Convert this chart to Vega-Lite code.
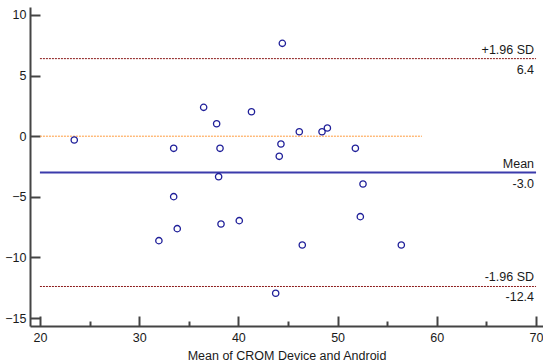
{
  "$schema": "https://vega.github.io/schema/vega-lite/v6.json",
  "width": 513,
  "height": 319,
  "autosize": {"type": "none"},
  "padding": {"left": 30, "top": 7, "right": 0, "bottom": 38},
  "background": "white",
  "config": {
    "view": {"stroke": null},
    "font": "Liberation Sans",
    "axis": {"grid": false, "labelFont": "Liberation Sans", "titleFont": "Liberation Sans", "labelFontSize": 12.5, "titleFontSize": 12.5, "labelColor": "#1a1a1a", "titleColor": "#1a1a1a", "titleFontWeight": "normal", "domainColor": "#444", "domainWidth": 2, "tickColor": "#444", "tickWidth": 2}
  },
  "datasets": {
    "points": [
      {"mean": 23.46, "diff": -0.31},
      {"mean": 36.50, "diff": 2.38},
      {"mean": 37.81, "diff": 1.03},
      {"mean": 33.48, "diff": -1.0},
      {"mean": 38.15, "diff": -1.0},
      {"mean": 38.01, "diff": -3.34},
      {"mean": 33.48, "diff": -4.99},
      {"mean": 44.43, "diff": 7.66},
      {"mean": 41.32, "diff": 2.02},
      {"mean": 46.14, "diff": 0.37},
      {"mean": 48.43, "diff": 0.37},
      {"mean": 48.97, "diff": 0.68},
      {"mean": 44.29, "diff": -0.64},
      {"mean": 44.12, "diff": -1.66},
      {"mean": 51.79, "diff": -1.0},
      {"mean": 33.84, "diff": -7.63},
      {"mean": 31.99, "diff": -8.62},
      {"mean": 38.25, "diff": -7.24},
      {"mean": 40.09, "diff": -6.97},
      {"mean": 46.44, "diff": -8.98},
      {"mean": 43.76, "diff": -12.96},
      {"mean": 52.56, "diff": -3.94},
      {"mean": 52.29, "diff": -6.64},
      {"mean": 56.42, "diff": -8.98}
    ],
    "limits": [
      {"kind": "sd", "label": "+1.96 SD", "value": "6.4", "y": 6.4, "x1": 20, "x2": 70},
      {"kind": "mean", "label": "Mean", "value": "-3.0", "y": -3.0, "x1": 20, "x2": 70},
      {"kind": "sd", "label": "-1.96 SD", "value": "-12.4", "y": -12.4, "x1": 20, "x2": 70}
    ],
    "zero": [{"y": 0, "x1": 20, "x2": 58.5}]
  },
  "encoding": {
    "x": {"type": "quantitative", "scale": {"domain": [19, 70.7], "nice": false, "zero": false}},
    "y": {"type": "quantitative", "scale": {"domain": [-15.66, 10.66], "nice": false, "zero": false}}
  },
  "layer": [
    {
      "data": {"name": "zero"},
      "mark": {"type": "rule", "color": "#ff9a3c", "strokeWidth": 1, "strokeDash": [2, 1]},
      "encoding": {
        "x": {"field": "x1", "type": "quantitative",
          "axis": {"title": "Mean of CROM Device and Android", "values": [20, 25, 30, 35, 40, 45, 50, 55, 60, 65, 70],
            "labelExpr": "datum.value % 10 == 0 ? datum.label : ''",
            "tickSize": {"condition": {"test": "datum.value % 10 == 0", "value": -10}, "value": -5},
            "labelPadding": 15, "titlePadding": 6}},
        "x2": {"field": "x2"},
        "y": {"field": "y", "type": "quantitative",
          "axis": {"title": null, "values": [-15, -10, -5, 0, 5, 10], "tickSize": -10, "labelPadding": 14}}
      }
    },
    {
      "data": {"name": "limits"},
      "transform": [{"filter": "datum.kind == 'sd'"}],
      "mark": {"type": "rule", "color": "#8b1a1a", "strokeWidth": 1, "strokeDash": [2, 1]},
      "encoding": {
        "x": {"field": "x1", "type": "quantitative"},
        "x2": {"field": "x2"},
        "y": {"field": "y", "type": "quantitative"}
      }
    },
    {
      "data": {"name": "limits"},
      "transform": [{"filter": "datum.kind == 'mean'"}],
      "mark": {"type": "rule", "color": "#3b3bab", "strokeWidth": 2},
      "encoding": {
        "x": {"field": "x1", "type": "quantitative"},
        "x2": {"field": "x2"},
        "y": {"field": "y", "type": "quantitative"}
      }
    },
    {
      "data": {"name": "limits"},
      "mark": {"type": "text", "align": "right", "baseline": "alphabetic", "dx": -2, "dy": -5, "fontSize": 12.5, "color": "#1a1a1a"},
      "encoding": {
        "x": {"field": "x2", "type": "quantitative"},
        "y": {"field": "y", "type": "quantitative"},
        "text": {"field": "label"}
      }
    },
    {
      "data": {"name": "limits"},
      "mark": {"type": "text", "align": "right", "baseline": "top", "dx": -2, "dy": 5, "fontSize": 12.5, "color": "#1a1a1a"},
      "encoding": {
        "x": {"field": "x2", "type": "quantitative"},
        "y": {"field": "y", "type": "quantitative"},
        "text": {"field": "value"}
      }
    },
    {
      "data": {"name": "points"},
      "mark": {"type": "point", "shape": "circle", "filled": false, "color": "#1f1f99", "size": 40, "strokeWidth": 1.3, "opacity": 1},
      "encoding": {
        "x": {"field": "mean", "type": "quantitative"},
        "y": {"field": "diff", "type": "quantitative"}
      }
    }
  ]
}
